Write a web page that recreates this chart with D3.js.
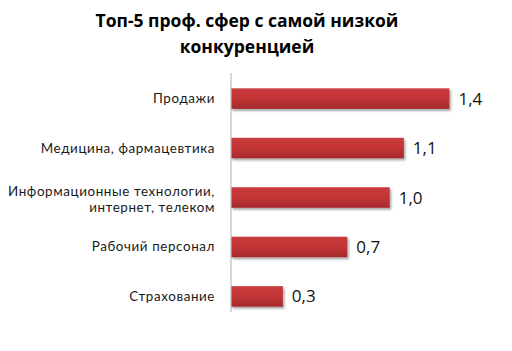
<!DOCTYPE html>
<html lang="ru">
<head>
<meta charset="UTF-8">
<title>Топ-5 проф. сфер с самой низкой конкуренцией</title>
<script src="https://d3js.org/d3.v7.min.js"></script>
<style>
  body { margin: 0; background: #fff; font-family: "Open Sans", "Noto Sans", sans-serif; }
  svg { display: block; }
  .title { font-size: 17.5px; font-weight: bold; fill: #000; }
  .cat { font-family: Lato, "Open Sans", sans-serif; font-size: 13.4px; letter-spacing: 0.6px; fill: #1a1a1a; }
  .val { font-size: 17px; fill: #111; }
</style>
</head>
<body>
<svg id="chart" width="512" height="351"></svg>
<script>
  const categories = [
    ["Продажи"],
    ["Медицина, фармацевтика"],
    ["Информационные технологии,", "интернет, телеком"],
    ["Рабочий персонал"],
    ["Страхование"]
  ];
  const values = [1.39, 1.10, 1.01, 0.74, 0.33];
  const titleLines = ["Топ-5 проф. сфер с самой низкой", "конкуренцией"];

  const svg = d3.select("#chart");

  const defs = svg.append("defs");
  const grad = defs.append("linearGradient")
      .attr("id", "barGrad").attr("x1", 0).attr("y1", 0).attr("x2", 0).attr("y2", 1);
  grad.append("stop").attr("offset", "0%").attr("stop-color", "#c93b3d");
  grad.append("stop").attr("offset", "45%").attr("stop-color", "#c43537");
  grad.append("stop").attr("offset", "100%").attr("stop-color", "#a52a2c");
  const filt = defs.append("filter").attr("id", "shadow")
      .attr("x", "-5%").attr("y", "-20%").attr("width", "115%").attr("height", "160%");
  filt.append("feDropShadow").attr("dx", 1.5).attr("dy", 2).attr("stdDeviation", 1.2)
      .attr("flood-color", "#000").attr("flood-opacity", 0.35);

  const idx = d3.range(values.length);
  const x = d3.scaleLinear().domain([0, 1.4]).range([231, 451]);
  const y = d3.scaleBand().domain(idx).range([74, 321]).paddingInner(0.585).paddingOuter(0.29);

  // title
  svg.append("text").attr("class", "title")
      .attr("x", 247).attr("y", 27).attr("text-anchor", "middle")
    .selectAll("tspan").data(titleLines).join("tspan")
      .attr("x", 247).attr("dy", (d, i) => i ? 26 : 0).text(d => d);

  // bars
  svg.append("g").selectAll("rect").data(idx).join("rect")
      .attr("x", x(0))
      .attr("y", i => y(i))
      .attr("width", i => x(values[i]) - x(0))
      .attr("height", y.bandwidth())
      .attr("fill", "url(#barGrad)")
      .attr("filter", "url(#shadow)");

  // axis line
  svg.append("line")
      .attr("x1", x(0)).attr("x2", x(0))
      .attr("y1", 73).attr("y2", 312)
      .attr("stroke", "#bdbdbd").attr("stroke-width", 1.2);

  // category labels
  const cat = svg.append("g").selectAll("text").data(idx).join("text")
      .attr("class", "cat")
      .attr("text-anchor", "end")
      .attr("x", 215)
      .attr("y", i => y(i) + y.bandwidth() / 2 + (categories[i].length > 1 ? -1.5 : 4.5));
  cat.selectAll("tspan").data(i => categories[i]).join("tspan")
      .attr("x", 215).attr("dy", (d, j) => j ? 16.2 : 0).text(d => d);

  // value labels
  const fmt = v => d3.format(".1f")(v).replace(".", ",");
  svg.append("g").selectAll("text").data(idx).join("text")
      .attr("class", "val")
      .attr("x", i => x(values[i]) + 9)
      .attr("y", i => y(i) + y.bandwidth() / 2 + 6)
      .text(i => fmt(values[i]));
</script>
</body>
</html>
